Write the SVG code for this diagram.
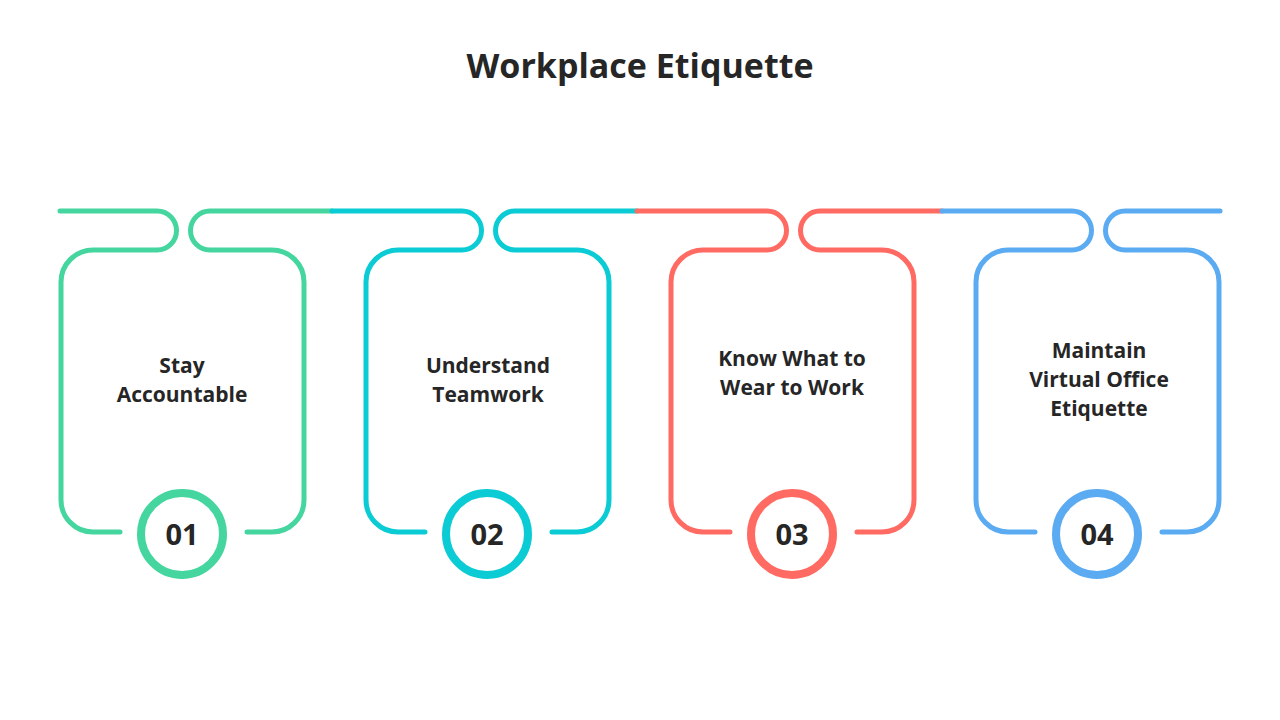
<svg xmlns="http://www.w3.org/2000/svg" width="1280" height="720" viewBox="0 0 1280 720">
<style>
.ln{fill:none;stroke-width:5;stroke-linecap:round}
.c{fill:#fff;stroke-width:8}
.t{font-family:"Open Sans",sans-serif;font-weight:bold;fill:#262626;text-anchor:middle}
.lb{font-size:21px}
.n{font-size:29px}
</style>
<rect width="1280" height="720" fill="#fff"/>
<text class="t" x="640" y="78" font-size="34">Workplace Etiquette</text>
<g id="connectors">
<path class="ln" stroke="#45D6A0" d="M60,211 H157 A19.5,19.5 0 0 1 157,250 H93 A32,32 0 0 0 61,282 V500 A32,32 0 0 0 93,532 H120 M247,532 H272 A32,32 0 0 0 304,500 V282 A32,32 0 0 0 272,250 H210 A19.5,19.5 0 0 1 210,211 H332"/>
<path class="ln" stroke="#0BCBD4" d="M332,211 H462 A19.5,19.5 0 0 1 462,250 H398 A32,32 0 0 0 366,282 V500 A32,32 0 0 0 398,532 H425 M552,532 H577 A32,32 0 0 0 609,500 V282 A32,32 0 0 0 577,250 H515 A19.5,19.5 0 0 1 515,211 H637"/>
<path class="ln" stroke="#FF6B63" d="M637,211 H767 A19.5,19.5 0 0 1 767,250 H703 A32,32 0 0 0 671,282 V500 A32,32 0 0 0 703,532 H730 M857,532 H882 A32,32 0 0 0 914,500 V282 A32,32 0 0 0 882,250 H820 A19.5,19.5 0 0 1 820,211 H942"/>
<path class="ln" stroke="#5AABF2" d="M942,211 H1072 A19.5,19.5 0 0 1 1072,250 H1008 A32,32 0 0 0 976,282 V500 A32,32 0 0 0 1008,532 H1035 M1162,532 H1187 A32,32 0 0 0 1219,500 V282 A32,32 0 0 0 1187,250 H1125 A19.5,19.5 0 0 1 1125,211 H1220"/>
</g>
<g id="node1"><text class="t lb" x="182" y="373">Stay</text><text class="t lb" x="182" y="402">Accountable</text><circle class="c" cx="182" cy="534" r="41" stroke="#45D6A0"/><text class="t n" x="182" y="545">01</text></g>
<g id="node2"><text class="t lb" x="488" y="373">Understand</text><text class="t lb" x="488" y="402">Teamwork</text><circle class="c" cx="487" cy="534" r="41" stroke="#0BCBD4"/><text class="t n" x="487" y="545">02</text></g>
<g id="node3"><text class="t lb" x="792" y="366">Know What to</text><text class="t lb" x="792" y="395">Wear to Work</text><circle class="c" cx="792" cy="534" r="41" stroke="#FF6B63"/><text class="t n" x="792" y="545">03</text></g>
<g id="node4"><text class="t lb" x="1099" y="358">Maintain</text><text class="t lb" x="1099" y="387">Virtual Office</text><text class="t lb" x="1099" y="416">Etiquette</text><circle class="c" cx="1097" cy="534" r="41" stroke="#5AABF2"/><text class="t n" x="1097" y="545">04</text></g>
</svg>
